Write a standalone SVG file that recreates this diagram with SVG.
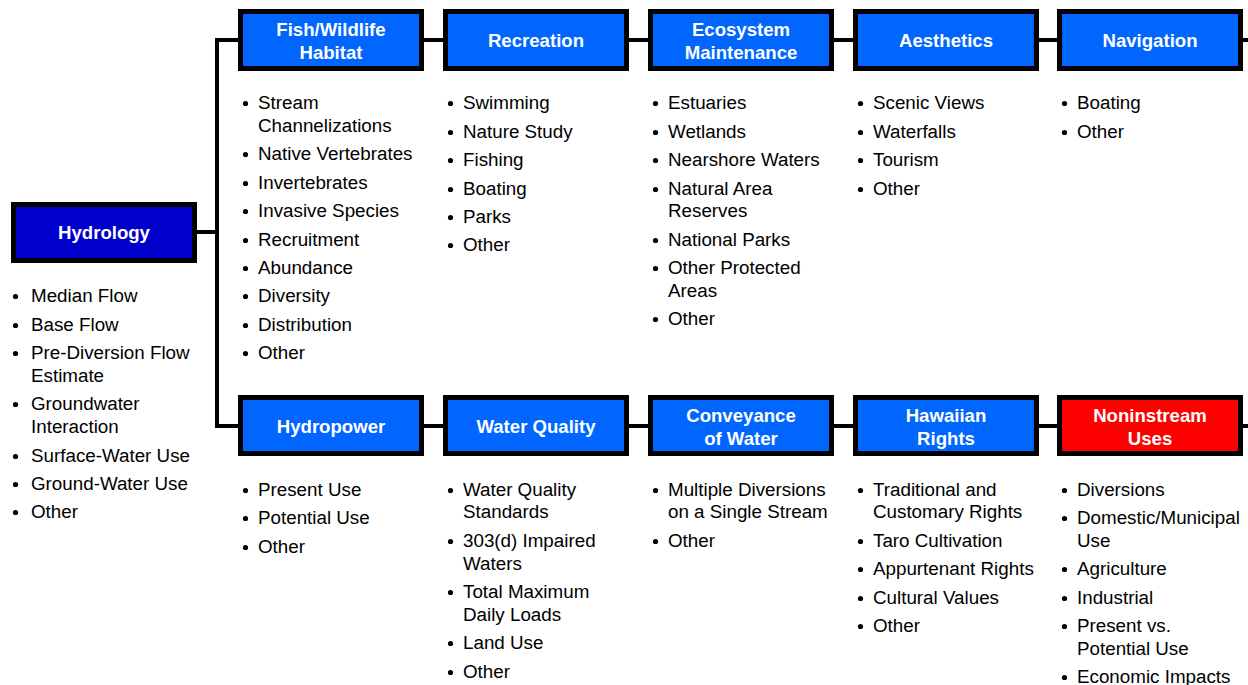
<svg xmlns="http://www.w3.org/2000/svg" width="1248" height="685" viewBox="0 0 1248 685">
<style>
.box{fill:#0066FF;stroke:#000;stroke-width:5}
.hyd{fill:#0000CC}
.red{fill:#FF0000}
.lbl{font-family:"Liberation Sans",Arial,sans-serif;font-weight:bold;font-size:18.6px;fill:#fff;text-anchor:middle}
.it{font-family:"Liberation Sans",Arial,sans-serif;font-size:18.8px;fill:#000}
.b{fill:#000}
.con{stroke:#000;stroke-width:4;fill:none}
</style>
<rect width="1248" height="685" fill="#fff"/>
<g id="connectors" class="con">
<path d="M197,232 H217 M217,38 V428 M215,40 H240 M215,426 H240"/>
<path d="M422,40 H445 M627,40 H650 M832,40 H855 M1037,40 H1059 M1241,40 H1248"/>
<path d="M422,426 H445 M627,426 H650 M832,426 H855 M1037,426 H1059 M1241,426 H1248"/>
</g>
<g id="hydrology">
<rect class="box hyd" x="13.5" y="204.5" width="181" height="56"/>
<text class="lbl" x="104" y="239">Hydrology</text>
<g class="b" transform="translate(-1.5,1.5)"><circle cx="17" cy="295" r="2.6"/><circle cx="17" cy="324" r="2.6"/><circle cx="17" cy="352" r="2.6"/><circle cx="17" cy="403" r="2.6"/><circle cx="17" cy="455" r="2.6"/><circle cx="17" cy="483" r="2.6"/><circle cx="17" cy="511" r="2.6"/></g>
<text class="it"><tspan x="31" y="302">Median Flow</tspan><tspan x="31" y="331">Base Flow</tspan><tspan x="31" y="359">Pre-Diversion Flow</tspan><tspan x="31" y="382">Estimate</tspan><tspan x="31" y="410">Groundwater</tspan><tspan x="31" y="433">Interaction</tspan><tspan x="31" y="462">Surface-Water Use</tspan><tspan x="31" y="490">Ground-Water Use</tspan><tspan x="31" y="518">Other</tspan></text>
</g>
<g id="fish">
<rect class="box" x="240.5" y="11.5" width="181" height="57"/>
<text class="lbl"><tspan x="331" y="35.5">Fish/Wildlife</tspan><tspan x="331" y="58.5">Habitat</tspan></text>
<g class="b" transform="translate(-1.5,1.5)"><circle cx="247" cy="102" r="2.6"/><circle cx="247" cy="153" r="2.6"/><circle cx="247" cy="182" r="2.6"/><circle cx="247" cy="210" r="2.6"/><circle cx="247" cy="239" r="2.6"/><circle cx="247" cy="267" r="2.6"/><circle cx="247" cy="295" r="2.6"/><circle cx="247" cy="324" r="2.6"/><circle cx="247" cy="352" r="2.6"/></g>
<text class="it"><tspan x="258" y="109">Stream</tspan><tspan x="258" y="132">Channelizations</tspan><tspan x="258" y="160">Native Vertebrates</tspan><tspan x="258" y="189">Invertebrates</tspan><tspan x="258" y="217">Invasive Species</tspan><tspan x="258" y="246">Recruitment</tspan><tspan x="258" y="274">Abundance</tspan><tspan x="258" y="302">Diversity</tspan><tspan x="258" y="331">Distribution</tspan><tspan x="258" y="359">Other</tspan></text>
</g>
<g id="recreation">
<rect class="box" x="445.5" y="11.5" width="181" height="57"/>
<text class="lbl" x="536" y="47">Recreation</text>
<g class="b" transform="translate(-1.5,1.5)"><circle cx="452" cy="102" r="2.6"/><circle cx="452" cy="131" r="2.6"/><circle cx="452" cy="159" r="2.6"/><circle cx="452" cy="188" r="2.6"/><circle cx="452" cy="216" r="2.6"/><circle cx="452" cy="244" r="2.6"/></g>
<text class="it"><tspan x="463" y="109">Swimming</tspan><tspan x="463" y="138">Nature Study</tspan><tspan x="463" y="166">Fishing</tspan><tspan x="463" y="195">Boating</tspan><tspan x="463" y="223">Parks</tspan><tspan x="463" y="251">Other</tspan></text>
</g>
<g id="ecosystem">
<rect class="box" x="650.5" y="11.5" width="181" height="57"/>
<text class="lbl"><tspan x="741" y="35.5">Ecosystem</tspan><tspan x="741" y="58.5">Maintenance</tspan></text>
<g class="b" transform="translate(-1.5,1.5)"><circle cx="657" cy="102" r="2.6"/><circle cx="657" cy="131" r="2.6"/><circle cx="657" cy="159" r="2.6"/><circle cx="657" cy="188" r="2.6"/><circle cx="657" cy="239" r="2.6"/><circle cx="657" cy="267" r="2.6"/><circle cx="657" cy="318" r="2.6"/></g>
<text class="it"><tspan x="668" y="109">Estuaries</tspan><tspan x="668" y="138">Wetlands</tspan><tspan x="668" y="166">Nearshore Waters</tspan><tspan x="668" y="195">Natural Area</tspan><tspan x="668" y="217">Reserves</tspan><tspan x="668" y="246">National Parks</tspan><tspan x="668" y="274">Other Protected</tspan><tspan x="668" y="297">Areas</tspan><tspan x="668" y="325">Other</tspan></text>
</g>
<g id="aesthetics">
<rect class="box" x="855.5" y="11.5" width="181" height="57"/>
<text class="lbl" x="946" y="47">Aesthetics</text>
<g class="b" transform="translate(-1.5,1.5)"><circle cx="862" cy="102" r="2.6"/><circle cx="862" cy="131" r="2.6"/><circle cx="862" cy="159" r="2.6"/><circle cx="862" cy="188" r="2.6"/></g>
<text class="it"><tspan x="873" y="109">Scenic Views</tspan><tspan x="873" y="138">Waterfalls</tspan><tspan x="873" y="166">Tourism</tspan><tspan x="873" y="195">Other</tspan></text>
</g>
<g id="navigation">
<rect class="box" x="1059.5" y="11.5" width="181" height="57"/>
<text class="lbl" x="1150" y="47">Navigation</text>
<g class="b" transform="translate(-1.5,1.5)"><circle cx="1066" cy="102" r="2.6"/><circle cx="1066" cy="131" r="2.6"/></g>
<text class="it"><tspan x="1077" y="109">Boating</tspan><tspan x="1077" y="138">Other</tspan></text>
</g>
<g id="hydropower">
<rect class="box" x="240.5" y="397.5" width="181" height="56"/>
<text class="lbl" x="331" y="433">Hydropower</text>
<g class="b" transform="translate(-1.5,1.5)"><circle cx="247" cy="489" r="2.6"/><circle cx="247" cy="517" r="2.6"/><circle cx="247" cy="546" r="2.6"/></g>
<text class="it"><tspan x="258" y="496">Present Use</tspan><tspan x="258" y="524">Potential Use</tspan><tspan x="258" y="553">Other</tspan></text>
</g>
<g id="waterquality">
<rect class="box" x="445.5" y="397.5" width="181" height="56"/>
<text class="lbl" x="536" y="433">Water Quality</text>
<g class="b" transform="translate(-1.5,1.5)"><circle cx="452" cy="489" r="2.6"/><circle cx="452" cy="540" r="2.6"/><circle cx="452" cy="591" r="2.6"/><circle cx="452" cy="642" r="2.6"/><circle cx="452" cy="671" r="2.6"/></g>
<text class="it"><tspan x="463" y="496">Water Quality</tspan><tspan x="463" y="518">Standards</tspan><tspan x="463" y="547">303(d) Impaired</tspan><tspan x="463" y="570">Waters</tspan><tspan x="463" y="598">Total Maximum</tspan><tspan x="463" y="621">Daily Loads</tspan><tspan x="463" y="649">Land Use</tspan><tspan x="463" y="678">Other</tspan></text>
</g>
<g id="conveyance">
<rect class="box" x="650.5" y="397.5" width="181" height="56"/>
<text class="lbl"><tspan x="741" y="421.5">Conveyance</tspan><tspan x="741" y="444.5">of Water</tspan></text>
<g class="b" transform="translate(-1.5,1.5)"><circle cx="657" cy="489" r="2.6"/><circle cx="657" cy="540" r="2.6"/></g>
<text class="it"><tspan x="668" y="496">Multiple Diversions</tspan><tspan x="668" y="518">on a Single Stream</tspan><tspan x="668" y="547">Other</tspan></text>
</g>
<g id="hawaiian">
<rect class="box" x="855.5" y="397.5" width="181" height="56"/>
<text class="lbl"><tspan x="946" y="421.5">Hawaiian</tspan><tspan x="946" y="444.5">Rights</tspan></text>
<g class="b" transform="translate(-1.5,1.5)"><circle cx="862" cy="489" r="2.6"/><circle cx="862" cy="540" r="2.6"/><circle cx="862" cy="568" r="2.6"/><circle cx="862" cy="597" r="2.6"/><circle cx="862" cy="625" r="2.6"/></g>
<text class="it"><tspan x="873" y="496">Traditional and</tspan><tspan x="873" y="518">Customary Rights</tspan><tspan x="873" y="547">Taro Cultivation</tspan><tspan x="873" y="575">Appurtenant Rights</tspan><tspan x="873" y="604">Cultural Values</tspan><tspan x="873" y="632">Other</tspan></text>
</g>
<g id="noninstream">
<rect class="box red" x="1059.5" y="397.5" width="181" height="56"/>
<text class="lbl"><tspan x="1150" y="421.5">Noninstream</tspan><tspan x="1150" y="444.5">Uses</tspan></text>
<g class="b" transform="translate(-1.5,1.5)"><circle cx="1066" cy="489" r="2.6"/><circle cx="1066" cy="517" r="2.6"/><circle cx="1066" cy="568" r="2.6"/><circle cx="1066" cy="597" r="2.6"/><circle cx="1066" cy="625" r="2.6"/><circle cx="1066" cy="676" r="2.6"/></g>
<text class="it"><tspan x="1077" y="496">Diversions</tspan><tspan x="1077" y="524">Domestic/Municipal</tspan><tspan x="1077" y="547">Use</tspan><tspan x="1077" y="575">Agriculture</tspan><tspan x="1077" y="604">Industrial</tspan><tspan x="1077" y="632">Present vs.</tspan><tspan x="1077" y="655">Potential Use</tspan><tspan x="1077" y="683">Economic Impacts</tspan></text>
</g>
</svg>
